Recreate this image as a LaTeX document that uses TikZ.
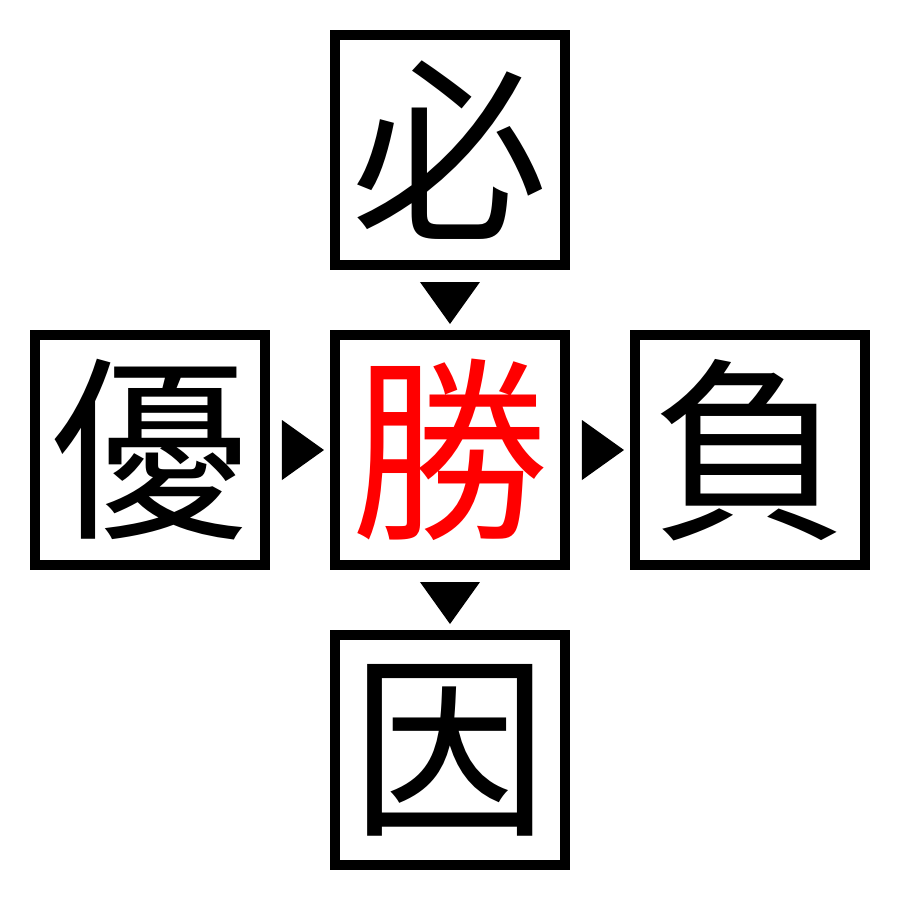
\documentclass[tikz,border=0pt]{standalone}
\usepackage{fontspec}
\newfontfamily\jpfont{Noto Sans CJK JP}
\usetikzlibrary{positioning,calc}
\tikzset{
  kanjibox/.style={draw, line width=0.1cm, minimum size=2.3cm, inner sep=0pt,
    outer sep=0pt, font=\jpfont\fontsize{56}{56}\selectfont},
}
\begin{document}
\begin{tikzpicture}[node distance=0.7cm]
            \useasboundingbox (-4.5,-4.5) rectangle (4.5,4.5);
            \node[kanjibox, text=red] (sho) at (0,0) {勝};
            \node[kanjibox, above=of sho] (hitsu) {必};
            \node[kanjibox, below=of sho] (in) {因};
            \node[kanjibox, left=of sho] (yuu) {優};
            \node[kanjibox, right=of sho] (fu) {負};
            % markers between the boxes
            \coordinate (m1) at ($(hitsu.south)!0.5!(sho.north)$);
            \coordinate (m2) at ($(sho.south)!0.5!(in.north)$);
            \coordinate (m3) at ($(yuu.east)!0.5!(sho.west)$);
            \coordinate (m4) at ($(sho.east)!0.5!(fu.west)$);
            \foreach \m in {m1,m2} {
                \fill (\m) ++(-0.3,0.18) -- ++(0.6,0) -- ++(-0.3,-0.42) -- cycle;
            }
            \foreach \m in {m3,m4} {
                \fill (\m) ++(-0.18,0.3) -- ++(0,-0.6) -- ++(0.42,0.3) -- cycle;
            }
        \end{tikzpicture}
\end{document}
